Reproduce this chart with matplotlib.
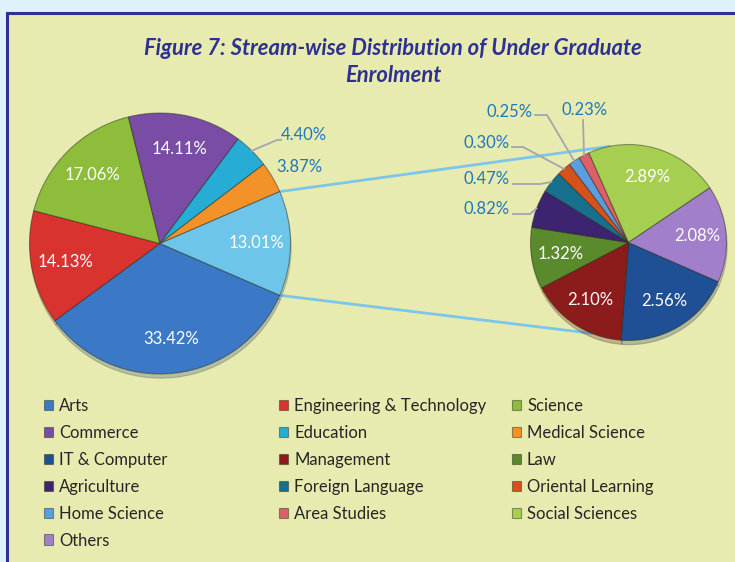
import numpy as np
import matplotlib.pyplot as plt
from matplotlib.patches import Rectangle
from matplotlib.legend import Legend

W, H = 735, 562

# main pie (share of total UG enrolment, %)
main_labels = ["Arts", "Engineering & Technology", "Science", "Commerce",
               "Education", "Medical Science"]
main_values = [33.42, 14.13, 17.06, 14.11, 4.40, 3.87]
main_colors = ["#3b79c6", "#d8332f", "#8dbd3a", "#7a4ca6", "#27acd6", "#f4922a"]
other_value = 13.01
other_color = "#6ec5ea"

# secondary pie (streams grouped into "other")
sec_labels = ["IT & Computer", "Management", "Law", "Agriculture",
              "Foreign Language", "Oriental Learning", "Home Science",
              "Area Studies", "Social Sciences", "Others"]
sec_values = [2.56, 2.10, 1.32, 0.82, 0.47, 0.30, 0.25, 0.23, 2.89, 2.08]
sec_colors = ["#1f4f94", "#8c1c1c", "#5b8a2c", "#3d2470", "#17708e",
              "#d5531b", "#5a9ee0", "#dd5f67", "#a6cf52", "#a17fcb"]

FONT = "Lato"
BLUE_TXT = "#1f78be"
LEADER = "#a3a6ad"


def P(x, y):
    # pixel (from top-left) -> data coords
    return x, H - y


def edge_point(w, ang=None):
    a = np.deg2rad((w.theta1 + w.theta2) / 2 if ang is None else ang)
    return w.center[0] + w.r * np.cos(a), w.center[1] + w.r * np.sin(a)


fig = plt.figure(figsize=(W / 100, H / 100), dpi=100)
fig.patch.set_facecolor("#dff2fb")
ax = fig.add_axes([0, 0, 1, 1])

# panel background with blue border
ax.add_patch(Rectangle(P(7, 600), 800, 600 - 13, facecolor="#e8ebb0",
                       edgecolor="#2e3192", linewidth=2.2, zorder=0))

wprops = dict(edgecolor=(0.15, 0.15, 0.1, 0.45), linewidth=0.8)
shadow = dict(ox=0.5, oy=-3, shade=0.5, alpha=0.25)

main_w, main_t = ax.pie(main_values + [other_value],
                        colors=main_colors + [other_color],
                        labels=[f"{v:.2f}%" for v in main_values + [other_value]],
                        labeldistance=0.74, startangle=-23.4, counterclock=False,
                        center=P(160, 243.5), radius=130.5, wedgeprops=wprops,
                        shadow=shadow,
                        textprops=dict(color="white", fontsize=12, family=FONT,
                                       ha="center", va="center"))
for t in main_t:
    t.set_ha("center")

sec_w, sec_t = ax.pie(sec_values, colors=sec_colors,
                      labels=[f"{v:.2f}%" for v in sec_values],
                      labeldistance=0.70, startangle=-23.6, counterclock=False,
                      center=P(628.5, 242.5), radius=98, wedgeprops=wprops,
                      shadow=shadow,
                      textprops=dict(color="white", fontsize=12, family=FONT,
                                     ha="center", va="center"))
for t in sec_t:
    t.set_ha("center")

ax.set_xlim(0, W)
ax.set_ylim(0, H)
ax.set_aspect("equal")
ax.axis("off")

# lines joining the "other" slice with the secondary pie
ow = main_w[-1]
for a_main, a_sec in [(ow.theta2, 101), (ow.theta1, -112)]:
    x0, y0 = edge_point(ow, a_main)
    x1, y1 = edge_point(sec_w[0], a_sec)
    ax.plot([x0, x1], [y0, y1], color="#7cc6ea", lw=2, zorder=0.5,
            solid_capstyle="round")

# small slices: labels outside with leader lines
# (wedge, text, text pos, leader start/elbow)
outside = [
    (main_w[4], main_t[4], (304, 135), [(281, 140), (277, 140)]),
    (main_w[5], main_t[5], (299, 167), None),
    (sec_w[3], sec_t[3], (487, 208.5), [(513, 214), (530, 214)]),
    (sec_w[4], sec_t[4], (487, 179), [(513, 184), (540, 184)]),
    (sec_w[5], sec_t[5], (487, 143), [(512, 147), (523, 147)]),
    (sec_w[6], sec_t[6], (510, 112), [(535, 115), (547, 115)]),
    (sec_w[7], sec_t[7], (585, 110), [(583, 120)]),
]
for w, t, pos, pts in outside:
    t.set_position(P(*pos))
    t.set_color(BLUE_TXT)
    if pts:
        xs = [P(*p)[0] for p in pts]
        ys = [P(*p)[1] for p in pts]
        ex, ey = edge_point(w)
        ax.plot(xs + [ex], ys + [ey], color=LEADER, lw=1.3, zorder=3)

fig.text(393 / W, 1 - 62 / H,
         "Figure 7: Stream-wise Distribution of Under Graduate\nEnrolment",
         ha="center", va="center", fontsize=15.8, fontweight="bold",
         fontstyle="italic", color="#2e3192", family=FONT, linespacing=1.3)

# legend, filled row by row in three columns
handles = list(main_w[:-1]) + list(sec_w)
names = main_labels + sec_labels
for j, xcol in enumerate([44, 279, 512]):
    leg = Legend(ax, handles[j::3], names[j::3], loc="upper left",
                 bbox_to_anchor=(xcol / W, 1 - 398 / H),
                 bbox_transform=fig.transFigure, frameon=False,
                 prop=dict(family=FONT, size=12), handlelength=0.55,
                 handleheight=0.6, handletextpad=0.35, labelspacing=0.655,
                 borderpad=0, borderaxespad=0)
    for txt in leg.get_texts():
        txt.set_color("#262626")
    ax.add_artist(leg)

fig.savefig("out.png", dpi=100, facecolor=fig.get_facecolor())
